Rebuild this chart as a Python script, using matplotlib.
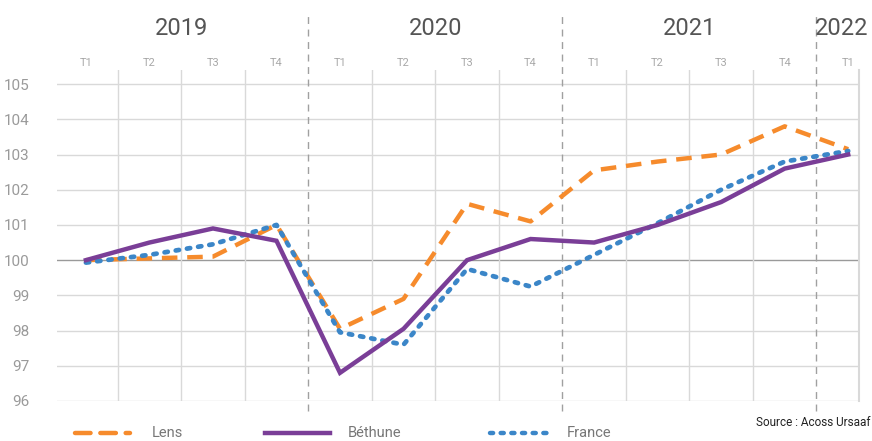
import numpy as np
import matplotlib.pyplot as plt
from matplotlib.lines import Line2D

# Data (index 2019 T1 = 100)
years = ["2019", "2020", "2021", "2022"]
quarters = ["T1", "T2", "T3", "T4", "T1", "T2", "T3", "T4", "T1", "T2", "T3", "T4", "T1"]
lens = [100.0, 100.05, 100.1, 101.0, 98.05, 98.9, 101.6, 101.1, 102.55, 102.8, 103.0, 103.8, 103.15]
bethune = [100.0, 100.5, 100.9, 100.55, 96.8, 98.05, 100.0, 100.6, 100.5, 101.0, 101.65, 102.6, 103.0]
france = [99.93, 100.15, 100.45, 101.0, 97.95, 97.6, 99.75, 99.25, 100.15, 101.05, 102.0, 102.8, 103.1]

COLORS = {"lens": "#F68B2C", "bethune": "#7A3E97", "france": "#3B86C8"}
GRID = "#d9d9d9"
TXT = "#9a9a9a"

plt.rcParams.update({
    "font.family": ["Roboto", "DejaVu Sans"],
    "figure.facecolor": "white",
    "axes.facecolor": "white",
})

fig = plt.figure(figsize=(8.72, 4.41), dpi=100)
ax = fig.add_axes([57 / 872, 40 / 441, 802 / 872, 331 / 441])

x = np.arange(len(quarters))
ax.set_xlim(-0.455, 12.17)
ax.set_ylim(96, 105.4)

# horizontal grid
for v in range(96, 106):
    ax.axhline(v, color="#9a9a9a" if v == 100 else GRID, lw=1.0, zorder=1)

# vertical grid / year separators
for i in range(len(quarters) - 1):
    xm = i + 0.5
    if i in (3, 7, 11):
        ax.axvline(xm, ymin=-0.03, ymax=1.17, color="#a0a0a0", lw=1.0,
                   ls=(0, (5, 4)), clip_on=False, zorder=1)
    else:
        ax.axvline(xm, ymin=0, ymax=1.0, color=GRID, lw=1.0, zorder=1)
ax.axvline(12.17, ymin=0, ymax=1.0, color=GRID, lw=1.5, clip_on=False, zorder=1)

# series
ax.plot(x, lens, color=COLORS["lens"], lw=3.2, ls=(0, (3.5, 2.2)), zorder=3)
ax.plot(x, bethune, color=COLORS["bethune"], lw=3.2, zorder=4, solid_joinstyle="miter")
ax.plot(x, france, color=COLORS["france"], lw=3.4, ls=(0, (0.7, 1.7)),
        dash_capstyle="round", zorder=3)

# y axis
ax.set_yticks(range(96, 106))
ax.set_yticklabels([str(v) for v in range(96, 106)], color=TXT, fontsize=11)
ax.tick_params(axis="y", length=0, pad=20)
ax.set_xticks([])
for s in ax.spines.values():
    s.set_visible(False)

# quarter and year labels
for i, q in enumerate(quarters):
    ax.text(i, 1.021, q, transform=ax.get_xaxis_transform(), ha="center",
            va="center", fontsize=8, color="#a8a8a8")
for xpos, yr in zip([1.5, 5.5, 9.5, 11.9], years):
    ax.text(xpos, 1.125, yr, transform=ax.get_xaxis_transform(), ha="center",
            va="center", fontsize=17, color="#555555")

# legend at the bottom
leg = [("Lens", COLORS["lens"], (0, (3.5, 2.2)), 75, 130, 152),
       ("Béthune", COLORS["bethune"], "-", 265, 330, 348),
       ("France", COLORS["france"], (0, (0.7, 1.7)), 490, 548, 567)]
ly = (441 - 433) / 441
for name, c, ls, x0, x1, tx in leg:
    fig.add_artist(Line2D([x0 / 872, x1 / 872], [ly, ly], color=c, lw=3.2, ls=ls,
                          dash_capstyle="round", transform=fig.transFigure))
    fig.text(tx / 872, ly, name, ha="left", va="center", fontsize=10.5, color="#777777")

fig.text(870 / 872, (441 - 423) / 441, "Source : Acoss Ursaaf", ha="right",
         va="center", fontsize=8.5, color="#222222")

fig.savefig("out.png", dpi=100)
